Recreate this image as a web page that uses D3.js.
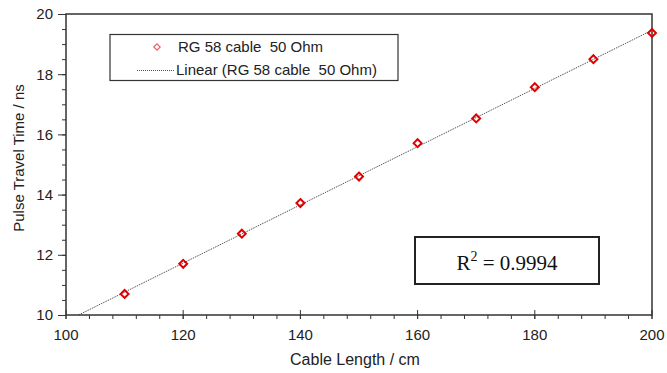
<!DOCTYPE html>
<html>
<head>
<meta charset="utf-8">
<script src="https://cdn.jsdelivr.net/npm/d3@7"></script>
<style>
  body { margin: 0; background: #fff; }
  svg { display: block; font-family: "Liberation Sans", Arial, sans-serif; }
  svg text { white-space: pre; }
</style>
</head>
<body>
<div id="chart"></div>
<script>
// Cable length vs pulse travel time
const cableLength = [110, 120, 130, 140, 150, 160, 170, 180, 190, 200];
const travelTime = [10.7, 11.7, 12.7, 13.72, 14.6, 15.71, 16.53, 17.57, 18.5, 19.37];
const xTicks = [100, 120, 140, 160, 180, 200];
const yTicks = [10, 12, 14, 16, 18, 20];
const seriesName = 'RG 58 cable  50 Ohm';
const rSquared = '0.9994';

const W = 667, H = 373;
const margin = { left: 66, right: 15, top: 14, bottom: 58 };

const svg = d3.select('#chart').append('svg')
    .attr('width', W)
    .attr('height', H);

const x = d3.scaleLinear().domain([100, 200]).range([margin.left, W - margin.right]);
const y = d3.scaleLinear().domain([10, 20]).range([H - margin.bottom, margin.top]);

// least squares trend line
const mx = d3.mean(cableLength), my = d3.mean(travelTime);
let sxy = 0, sxx = 0;
cableLength.forEach((c, i) => { sxy += (c - mx) * (travelTime[i] - my); sxx += (c - mx) * (c - mx); });
const slope = sxy / sxx;
const intercept = my - slope * mx;
const x0 = (10 - intercept) / slope;

svg.append('line')
    .attr('x1', x(x0)).attr('y1', y(10))
    .attr('x2', x(200)).attr('y2', y(intercept + slope * 200))
    .attr('stroke', '#555')
    .attr('stroke-width', 1)
    .attr('stroke-dasharray', '1.5,1');

// frame
svg.append('rect')
    .attr('x', x(100)).attr('y', y(20))
    .attr('width', x(200) - x(100))
    .attr('height', y(10) - y(20))
    .attr('fill', 'none')
    .attr('stroke', '#333')
    .attr('stroke-width', 1.5);

// y axis
const yMinor = svg.append('g').attr('transform', `translate(${margin.left},0)`)
    .call(d3.axisLeft(y).tickValues(d3.range(10, 20.01, 0.5)).tickSize(4).tickFormat(''));
yMinor.select('.domain').remove();
const yMajor = svg.append('g').attr('transform', `translate(${margin.left},0)`)
    .call(d3.axisLeft(y).tickValues(yTicks).tickSize(8).tickPadding(5).tickFormat(d3.format('d')));
yMajor.select('.domain').remove();
yMajor.selectAll('text').style('font-size', '15px').attr('fill', '#222');
svg.selectAll('.tick line').attr('stroke', '#333');

// x axis
const xb = y(10);
svg.append('g').selectAll('line')
    .data(d3.range(100, 200.01, 4))
    .join('line')
    .attr('x1', d => x(d)).attr('x2', d => x(d))
    .attr('y1', xb).attr('y2', xb + 4)
    .attr('stroke', '#333');
const xMajor = svg.append('g');
xMajor.selectAll('line')
    .data(xTicks)
    .join('line')
    .attr('x1', d => x(d)).attr('x2', d => x(d))
    .attr('y1', xb - 5).attr('y2', xb + 4)
    .attr('stroke', '#333');
xMajor.selectAll('text')
    .data(xTicks)
    .join('text')
    .attr('x', d => x(d))
    .attr('y', xb + 25)
    .attr('text-anchor', 'middle')
    .style('font-size', '15px')
    .attr('fill', '#222')
    .text(d => d);

// axis titles
svg.append('text')
    .attr('x', (x(100) + x(200)) / 2 - 4)
    .attr('y', 365)
    .attr('text-anchor', 'middle')
    .style('font-size', '16px')
    .attr('fill', '#222')
    .text('Cable Length / cm');

svg.append('text')
    .attr('transform', `translate(24,158) rotate(-90)`)
    .attr('text-anchor', 'middle')
    .style('font-size', '15px')
    .attr('fill', '#222')
    .text('Pulse Travel Time / ns');

// data points
const diamond = d3.symbol().type(d3.symbolDiamond2).size(40);
svg.selectAll('.pt')
    .data(cableLength)
    .join('path')
    .attr('class', 'pt')
    .attr('transform', (d, i) => `translate(${x(d)},${y(travelTime[i])})`)
    .attr('d', diamond)
    .attr('fill', 'none')
    .attr('stroke', '#e00000')
    .attr('stroke-width', 2);

// legend
const lg = svg.append('g');
lg.append('rect')
    .attr('x', 110).attr('y', 34.5)
    .attr('width', 288).attr('height', 46)
    .attr('fill', '#fff')
    .attr('stroke', '#333')
    .attr('stroke-width', 1.2);
lg.append('path')
    .attr('transform', 'translate(157,47)')
    .attr('d', d3.symbol().type(d3.symbolDiamond2).size(26))
    .attr('fill', 'none')
    .attr('stroke', '#f06060')
    .attr('stroke-width', 1.2);
lg.append('text')
    .attr('x', 178).attr('y', 52)
    .style('font-size', '15px')
    .attr('fill', '#222')
    .text(seriesName);
lg.append('line')
    .attr('x1', 137).attr('x2', 175)
    .attr('y1', 70.5).attr('y2', 70.5)
    .attr('stroke', '#555')
    .attr('stroke-dasharray', '1,1');
lg.append('text')
    .attr('x', 176).attr('y', 75)
    .style('font-size', '15px')
    .attr('fill', '#222')
    .text(`Linear (${seriesName})`);

// R squared box
const rb = svg.append('g');
rb.append('rect')
    .attr('x', 415).attr('y', 237)
    .attr('width', 184).attr('height', 47)
    .attr('fill', '#fff')
    .attr('stroke', '#222')
    .attr('stroke-width', 2);
const rt = rb.append('text')
    .attr('x', 507).attr('y', 270)
    .attr('text-anchor', 'middle')
    .style('font-family', '"Liberation Serif", "Times New Roman", serif')
    .style('font-size', '21px')
    .attr('fill', '#111');
rt.append('tspan').text('R');
rt.append('tspan').attr('dy', -9).style('font-size', '14px').text('2');
rt.append('tspan').attr('dy', 9).text(` = ${rSquared}`);
</script>
</body>
</html>
